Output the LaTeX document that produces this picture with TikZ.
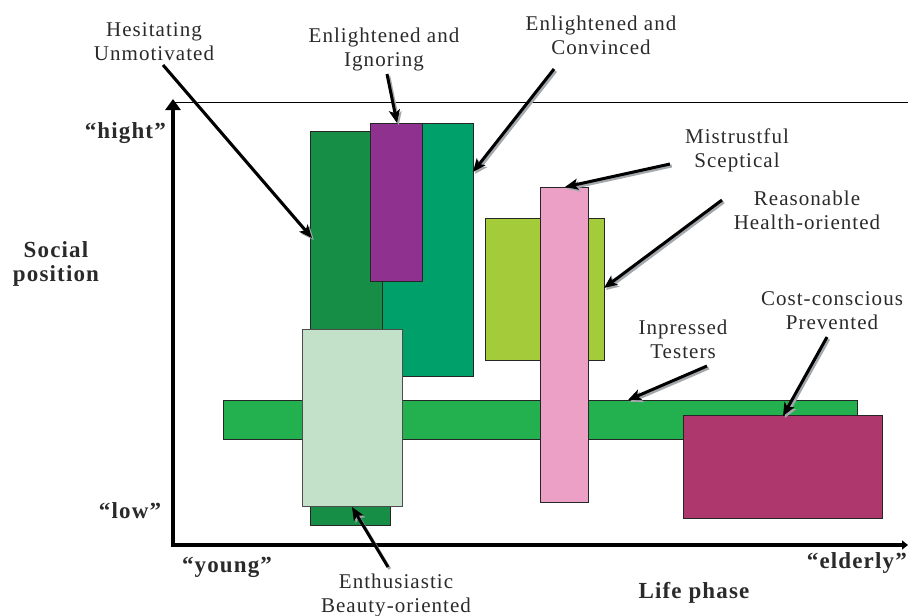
\documentclass[tikz,border=0pt]{standalone}
\usepackage{fontspec}
\setmainfont{Liberation Serif}[LetterSpace=5]
\usetikzlibrary{arrows.meta}
\definecolor{cDG}{HTML}{168E46}
\definecolor{cTL}{HTML}{00A06A}
\definecolor{cPU}{HTML}{8E318F}
\definecolor{cLG}{HTML}{C3E1C9}
\definecolor{cGB}{HTML}{23B04F}
\definecolor{cLI}{HTML}{A4CB3A}
\definecolor{cPK}{HTML}{EDA0C5}
\definecolor{cMG}{HTML}{AE386E}
\definecolor{cTX}{HTML}{2A2A2A}
\definecolor{cSH}{HTML}{A3A8AD}
\begin{document}
\begin{tikzpicture}[x=1pt,y=-1pt,
  bx/.style={draw=black!85,line width=0.9pt,inner sep=0pt,outer sep=0pt},
  lbl/.style={text=cTX,align=center,inner sep=0pt,font=\fontsize{21}{24}\selectfont},
  blbl/.style={text=cTX,align=center,inner sep=0pt,font=\bfseries\fontsize{23}{24}\selectfont},
  pointer/.style={line width=3pt,-{Stealth[length=13pt,width=11pt,inset=3pt]}},
  pshadow/.style={line width=3pt,draw=cSH,-{Stealth[length=13pt,width=11pt,inset=3pt]},
     transform canvas={shift={(1.8pt,-2pt)}}},
  axis/.style={line width=4.5pt,line join=miter,
     {Triangle[length=11pt,width=15pt]}-{Triangle[length=6pt,width=9pt]}}]
\useasboundingbox (0,0) rectangle (908,616);
% axes
\coordinate (ytop) at (173,99);
\coordinate (O) at (173,545);
\coordinate (xend) at (908,545);
\coordinate (tl0) at (172,102);
\coordinate (tl1) at (908,102);
\draw[line width=0.8pt] (tl0) -- (tl1);
\draw[axis] (ytop) -- (O) -- (xend);
% boxes
\node[bx,fill=cDG,minimum width=80pt,minimum height=394pt] (dg) at (350,328) {};
\node[bx,fill=cTL,minimum width=91pt,minimum height=253pt] (tl) at (427.5,249.5) {};
\node[bx,fill=cPU,minimum width=52pt,minimum height=158pt] (pu) at (396,202) {};
\node[bx,fill=cGB,minimum width=634pt,minimum height=39pt] (gb) at (540,419.5) {};
\node[bx,draw=black!70,fill=cLG,minimum width=99.5pt,minimum height=177pt] (lg) at (352.25,417.5) {};
\node[bx,fill=cLI,minimum width=119pt,minimum height=142pt] (li) at (544.5,289) {};
\node[bx,fill=cPK,minimum width=47.5pt,minimum height=315pt] (pk) at (564.25,344.5) {};
\node[bx,fill=cMG,minimum width=199pt,minimum height=103pt] (mg) at (782.5,466.5) {};
% labels
\node[lbl] (hes) at (154,41.5) {Hesitating\\Unmotivated};
\node[lbl] (eig) at (384,49.5) {Enlightened and\\Ignoring};
\node[lbl] (eco) at (601,35) {Enlightened and\\Convinced};
\node[lbl] (mis) at (737,150.5) {Mistrustful\\Sceptical};
\node[lbl] (rea) at (807,210.5) {Reasonable\\Health-oriented};
\node[lbl] (inp) at (683,339) {Inpressed\\Testers};
\node[lbl] (cos) at (832,310.5) {Cost-conscious\\Prevented};
\node[lbl] (ent) at (396,595.5) {Enthusiastic\\Beauty-oriented};
\node[blbl] (soc) at (56,264) {Social\\position};
\node[blbl,anchor=base east] (hi) at (166,138) {“hight”};
\node[blbl,anchor=base] (lo) at (130,518) {“low”};
\node[blbl,anchor=base] (yo) at (227,572) {“young”};
\node[blbl,anchor=base east] (el) at (907,568) {“elderly”};
\node[blbl,anchor=base] (lp) at (694,598) {Life phase};
% pointer coordinates
\coordinate (s1) at (163,65);  \coordinate (e1) at (312,238);
\coordinate (s2) at (387,74);  \coordinate (e2) at (397,123);
\coordinate (s3) at (554,69);  \coordinate (e3) at (473,172);
\coordinate (s4) at (670,164); \coordinate (e4) at (565,187);
\coordinate (s5) at (722,200); \coordinate (e5) at (604,288);
\coordinate (s6) at (707,366); \coordinate (e6) at (628,400);
\coordinate (s7) at (827,337); \coordinate (e7) at (783,416);
\coordinate (s8) at (388,567); \coordinate (e8) at (352,507);
\foreach \i in {1,...,8}{
  \draw[pshadow] (s\i) -- (e\i);
}
\foreach \i in {1,...,8}{
  \draw[pointer] (s\i) -- (e\i);
}
\end{tikzpicture}
\end{document}
